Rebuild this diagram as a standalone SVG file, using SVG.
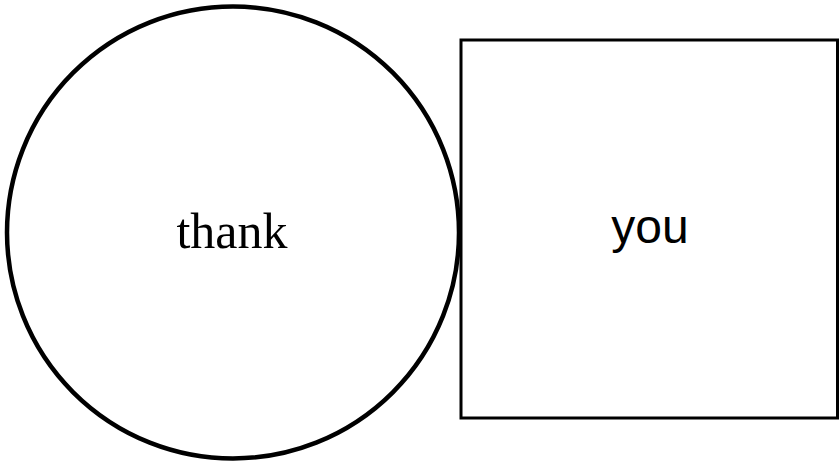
<svg xmlns="http://www.w3.org/2000/svg" width="840" height="465" viewBox="0 0 840 465">
<style>
.shape{fill:#fff;stroke:#000}
.serif{font-family:"Liberation Serif","Times New Roman",serif;font-size:50px;fill:#000}
.sans{font-family:"Liberation Sans",Arial,sans-serif;font-size:48px;fill:#000}
</style>
<rect width="840" height="465" fill="#fff"/>
<g id="node-you">
<rect class="shape" x="461" y="40" width="376.5" height="378" stroke-width="3"/>
<text class="sans" x="650" y="243" text-anchor="middle">you</text>
</g>
<g id="node-thank">
<circle class="shape" cx="233" cy="232.5" r="226" stroke-width="4.5"/>
<text class="serif" x="232" y="248" text-anchor="middle">thank</text>
</g>
<g id="connectors"></g>
</svg>
